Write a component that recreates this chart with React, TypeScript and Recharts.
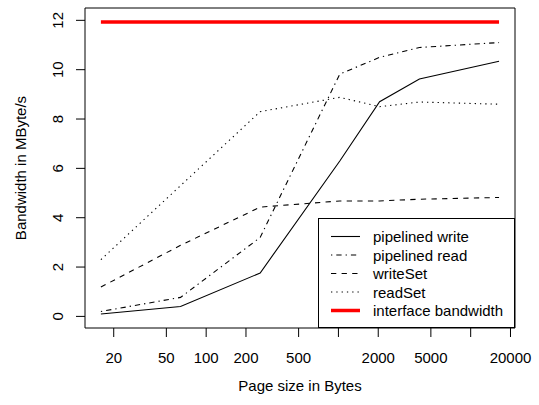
import React from 'react';
import { LineChart, Line, XAxis, YAxis, Legend, ReferenceArea } from 'recharts';

const pageSizes = [16, 64, 256, 1024, 2048, 4096, 16384];
const pipelinedWrite = [0.1, 0.4, 1.76, 6.3, 8.7, 9.62, 10.34];
const pipelinedRead = [0.2, 0.77, 3.2, 9.82, 10.5, 10.9, 11.1];
const writeSet = [1.19, 2.88, 4.43, 4.68, 4.68, 4.75, 4.82];
const readSet = [2.3, 5.3, 8.3, 8.88, 8.5, 8.69, 8.6];
const interfaceBandwidth = [11.93, 11.93, 11.93, 11.93, 11.93, 11.93, 11.93];

const xTicks = [20, 50, 100, 200, 500, 1000, 2000, 5000, 10000, 20000];
const xTickLabels = ['20', '50', '100', '200', '500', '', '2000', '5000', '', '20000'];
const yTicks = [0, 2, 4, 6, 8, 10, 12];

const xDomain: [number, number] = [12.13, 21630];
const yDomain: [number, number] = [-0.47, 12.5];

const FONT = '"Liberation Sans", Arial, Helvetica, sans-serif';
const FS = 15;

const series = [
  { key: 'pw', name: 'pipelined write', values: pipelinedWrite, color: '#000', width: 1.1, dash: undefined as string | undefined },
  { key: 'pr', name: 'pipelined read', values: pipelinedRead, color: '#000', width: 1.1, dash: '1.3 4 5.3 4' },
  { key: 'ws', name: 'writeSet', values: writeSet, color: '#000', width: 1.1, dash: '5.3 5.3' },
  { key: 'rs', name: 'readSet', values: readSet, color: '#000', width: 1.1, dash: '1.3 4' },
  { key: 'ib', name: 'interface bandwidth', values: interfaceBandwidth, color: '#ff0000', width: 3.5, dash: undefined },
];

const data = pageSizes.map((size, i) => {
  const row: Record<string, number> = { size };
  series.forEach((s) => {
    row[s.key] = s.values[i];
  });
  return row;
});

const XTick = (props: any) => {
  const { x, y, payload } = props;
  const idx = xTicks.indexOf(payload.value);
  const label = idx >= 0 ? xTickLabels[idx] : String(payload.value);
  return (
    <g>
      <line x1={x} x2={x} y1={y} y2={y + 9} stroke="#000" strokeWidth={1} />
      {label ? (
        <text x={x} y={y + 35} textAnchor="middle" fontSize={FS} fontFamily={FONT} fill="#000">
          {label}
        </text>
      ) : null}
    </g>
  );
};

const YTick = (props: any) => {
  const { x, y, payload } = props;
  const bx = x - 22;
  return (
    <g>
      <line x1={x - 9} x2={x} y1={y} y2={y} stroke="#000" strokeWidth={1} />
      <text
        x={bx}
        y={y}
        transform={`rotate(-90 ${bx} ${y})`}
        textAnchor="middle"
        fontSize={FS}
        fontFamily={FONT}
        fill="#000"
      >
        {payload.value}
      </text>
    </g>
  );
};

const XTitle = (props: any) => {
  const vb = props.viewBox || { x: 85, y: 328, width: 430, height: 77 };
  return (
    <text x={vb.x + vb.width / 2} y={vb.y + 63} textAnchor="middle" fontSize={FS} fontFamily={FONT} fill="#000">
      Page size in Bytes
    </text>
  );
};

const YTitle = (props: any) => {
  const vb = props.viewBox || { x: 0, y: 8, width: 85, height: 320 };
  const cx = 26;
  const cy = vb.y + vb.height / 2;
  return (
    <text x={cx} y={cy} transform={`rotate(-90 ${cx} ${cy})`} textAnchor="middle" fontSize={FS} fontFamily={FONT} fill="#000">
      Bandwidth in MByte/s
    </text>
  );
};

const LegendBox = () => {
  const w = 197;
  const h = 110;
  return (
    <svg width={w} height={h} style={{ display: 'block', overflow: 'visible' }}>
      <rect x={0.5} y={0.5} width={w - 1} height={h - 1} fill="#fff" stroke="#000" strokeWidth={1} />
      {series.map((s, i) => {
        const cy = 18.5 + i * 18.5;
        return (
          <g key={s.key}>
            <line x1={13} x2={42} y1={cy} y2={cy} stroke={s.color} strokeWidth={s.width} strokeDasharray={s.dash} />
            <text x={55} y={cy} dominantBaseline="central" fontSize={FS} fontFamily={FONT} fill="#000">
              {s.name}
            </text>
          </g>
        );
      })}
    </svg>
  );
};

export default function App() {
  return (
    <div style={{ position: 'absolute', left: 0, top: 0, width: 539, height: 405, background: '#fff' }}>
      <LineChart width={539} height={405} data={data} margin={{ top: 8, right: 24, bottom: 0, left: 0 }}>
        <XAxis
          dataKey="size"
          type="number"
          scale="log"
          domain={xDomain}
          allowDataOverflow
          ticks={xTicks}
          interval={0}
          tick={<XTick />}
          tickLine={false}
          axisLine={false}
          tickSize={0}
          tickMargin={0}
          height={77}
          label={{ content: (p: any) => <XTitle {...p} /> }}
        />
        <YAxis
          type="number"
          domain={yDomain}
          allowDataOverflow
          ticks={yTicks}
          interval={0}
          tick={<YTick />}
          tickLine={false}
          axisLine={false}
          tickSize={0}
          tickMargin={0}
          width={85}
          label={{ content: (p: any) => <YTitle {...p} /> }}
        />
        <ReferenceArea
          x1={xDomain[0]}
          x2={xDomain[1]}
          y1={yDomain[0]}
          y2={yDomain[1]}
          fill="none"
          fillOpacity={0}
          stroke="#000"
          strokeWidth={1}
          ifOverflow="visible"
        />
        {series.map((s) => (
          <Line
            key={s.key}
            dataKey={s.key}
            name={s.name}
            type="linear"
            stroke={s.color}
            strokeWidth={s.width}
            strokeDasharray={s.dash}
            dot={false}
            activeDot={false}
            isAnimationActive={false}
          />
        ))}
        <Legend
          layout="horizontal"
          align="center"
          verticalAlign="middle"
          content={() => <LegendBox />}
          wrapperStyle={{ position: 'absolute', left: 318, top: 218, width: 197, height: 110 }}
        />
      </LineChart>
    </div>
  );
}
